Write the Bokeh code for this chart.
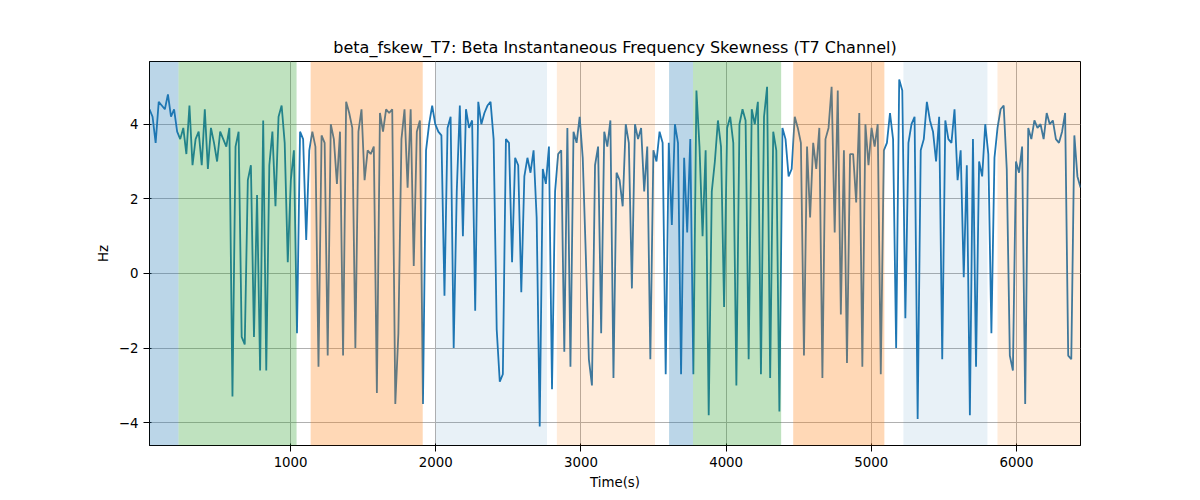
import numpy as np
from bokeh.plotting import figure
from bokeh.models import BoxAnnotation, FixedTicker, Range1d
from bokeh.embed import file_html
from bokeh.resources import INLINE

title = "beta_fskew_T7: Beta Instantaneous Frequency Skewness (T7 Channel)"
t_start, t_end = 28, 6441
values = [
 4.4,4.2,3.5,4.6,4.5,4.4,4.8,4.2,4.4,3.8,3.6,3.9,3.2,4.5,2.9,3.6,3.8,2.9,4.4,2.8,
 3.9,3.5,3.0,3.8,3.6,3.4,3.9,-3.3,3.4,3.8,-1.7,-1.9,2.5,2.9,-1.7,2.1,-2.6,4.1,-2.6,2.9,
 3.8,1.8,4.2,4.5,3.5,0.3,2.5,3.3,-1.6,3.8,3.6,0.9,3.3,3.8,3.4,-2.5,3.7,3.5,-2.2,4.0,
 3.6,2.4,3.8,-2.2,4.6,4.3,3.9,-2.0,3.8,4.4,2.5,3.3,3.2,3.4,-3.2,4.3,3.8,4.4,4.3,4.4,
 -3.5,-1.6,3.6,4.4,2.3,4.4,0.2,3.8,4.1,-3.5,3.3,4.0,4.5,4.0,3.8,3.7,-0.6,3.9,4.2,-2.0,
 2.2,4.5,1.0,4.4,3.9,4.1,-1.0,4.6,4.0,4.3,4.5,4.6,3.6,-1.5,-2.9,-2.7,3.6,3.5,0.3,3.1,
 2.9,-0.5,2.6,3.1,2.7,3.3,1.5,-4.1,2.8,2.4,3.4,-3.1,2.2,3.2,3.3,-2.1,3.9,-2.5,3.8,3.5,
 4.2,3.1,0.5,-2.3,-3.0,2.9,3.4,-1.6,3.8,3.4,4.1,-2.8,2.7,2.5,1.8,4.0,3.5,-0.4,4.0,3.6,
 3.9,2.2,3.4,-2.3,3.3,3.0,3.8,3.5,-2.7,3.5,1.3,4.0,3.5,-2.7,3.1,1.1,3.6,-2.7,4.9,3.4,
 1.0,3.3,-3.8,2.2,3.0,4.1,3.4,-0.9,3.9,4.2,3.5,-3.0,4.0,4.4,4.1,-2.3,4.4,4.0,4.6,-2.7,
 4.2,5.0,-2.8,3.8,3.3,-3.7,3.9,3.6,2.6,2.8,4.2,3.9,3.5,-2.2,3.4,1.5,3.5,2.8,3.9,-2.8,
 3.6,3.9,5.0,1.1,4.9,-1.1,3.3,-2.4,3.2,3.2,1.9,4.3,-2.5,4.0,2.9,3.9,3.4,4.0,-2.7,3.3,
 3.5,4.3,3.6,-2.0,5.2,4.9,-1.2,3.5,4.0,4.2,-3.9,3.3,3.6,4.6,4.1,3.8,3.0,4.2,-2.3,4.1,
 3.6,3.5,4.4,2.5,3.3,-0.1,2.9,-3.8,3.6,-2.5,3.0,2.6,4.0,3.2,-1.6,3.1,3.9,4.4,4.5,2.8,
 -2.2,-2.6,3.0,2.7,3.4,-3.5,3.9,3.6,4.1,3.9,4.0,3.6,4.3,4.0,4.1,3.6,3.5,3.8,4.3,-2.2,
 -2.3,3.7,2.6,2.3,
]
times = np.linspace(t_start, t_end, len(values))

spans = [
 (28, 228, "#1f77b4", 0.3), (228, 1041, "#2ca02c", 0.3), (1138, 1910, "#ff7f0e", 0.3),
 (2000, 2766, "#1f77b4", 0.1), (2834, 3510, "#ff7f0e", 0.15), (3607, 3772, "#1f77b4", 0.3),
 (3772, 4379, "#2ca02c", 0.3), (4462, 5090, "#ff7f0e", 0.3), (5221, 5800, "#1f77b4", 0.1),
 (5869, 6441, "#ff7f0e", 0.15),
]

p = figure(width=1184, height=492, output_backend="svg", toolbar_location=None,
           title=title, x_range=Range1d(t_start, t_end), y_range=Range1d(-4.61, 5.68),
           min_border_left=149, min_border_right=104, min_border_bottom=32, min_border_top=61)
p.title.align = "center"
p.title.text_font = "DejaVu Sans"
p.title.text_font_size = "12pt"
p.title.text_font_style = "normal"
p.title.text_color = "black"
for a, b, c, al in spans:
    p.add_layout(BoxAnnotation(left=a, right=b, fill_color=c, fill_alpha=al, line_alpha=0))
p.line(times, values, line_color="#1f77b4", line_width=1.8)
p.xaxis.ticker = FixedTicker(ticks=[1000, 2000, 3000, 4000, 5000, 6000])
p.yaxis.ticker = FixedTicker(ticks=[-4, -2, 0, 2, 4])
p.xaxis.axis_label = "Time(s)"
p.yaxis.axis_label = "Hz"
for ax in (p.xaxis[0], p.yaxis[0]):
    ax.axis_label_text_font_style = "normal"
    ax.axis_label_text_font = "DejaVu Sans"
    ax.axis_label_text_font_size = "10pt"
    ax.axis_label_text_color = "black"
    ax.major_label_text_font = "DejaVu Sans"
    ax.major_label_text_font_size = "10pt"
    ax.minor_tick_line_color = None
    ax.major_label_text_color = "black"
    ax.axis_line_color = "black"
    ax.major_tick_line_color = "black"
p.grid.grid_line_color = "#b0b0b0"
p.grid.grid_line_alpha = 1
p.outline_line_color = "black"
open("out.html", "w").write(file_html(p, INLINE))
